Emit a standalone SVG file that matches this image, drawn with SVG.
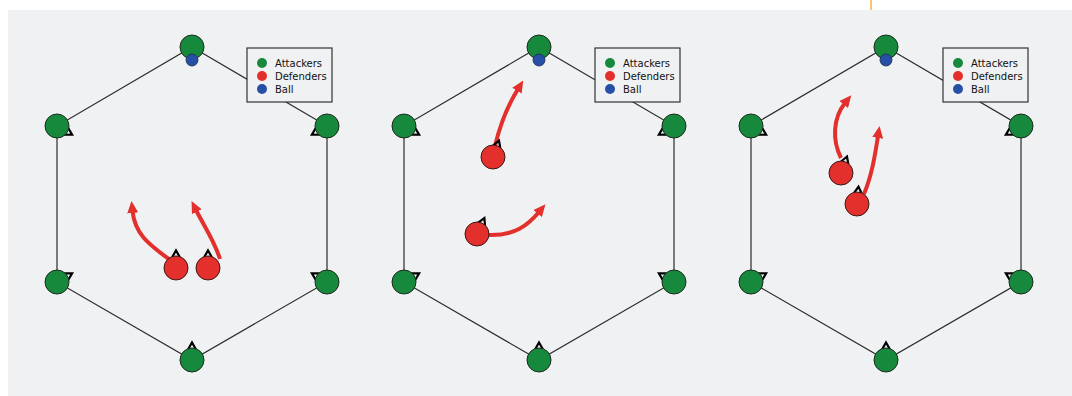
<svg xmlns="http://www.w3.org/2000/svg" width="1072" height="396" viewBox="0 0 1072 396">
<style>
.edge{stroke:#2b2b2b;stroke-width:1.2;fill:none}
.att{fill:#17893c;stroke:#1d2a1f;stroke-width:1}
.def{fill:#e3302c;stroke:#3a1a18;stroke-width:1}
.ball{fill:#2650a6;stroke:#1a2a50;stroke-width:0.8}
.mv{stroke:#e3302c;stroke-width:4;fill:none;marker-end:url(#ah)}
.caret{fill:none;stroke:#000;stroke-width:2.2;stroke-linejoin:miter}
.lg{fill:#f0f1f3;stroke:#333;stroke-width:1.2}
.lt{font-family:"DejaVu Sans",sans-serif;font-size:10px;fill:#111}
</style>
<defs>
<marker id="ah" markerUnits="userSpaceOnUse" viewBox="0 0 12 11" refX="2" refY="5.5" markerWidth="12" markerHeight="11" orient="auto">
<path d="M0,0 L12,5.5 L0,11 z" fill="#e3302c"/>
</marker>
<path id="cr" class="caret" d="M-4,3.5 L0,-3.5 L4,3.5"/>
<g id="legend">
<rect class="lg" x="0" y="0" width="85" height="54"/>
<circle cx="15" cy="15" r="5" fill="#17893c"/>
<circle cx="15" cy="28" r="5" fill="#e3302c"/>
<circle cx="15" cy="41" r="5" fill="#2650a6"/>
<text class="lt" x="28" y="19">Attackers</text>
<text class="lt" x="28" y="32">Defenders</text>
<text class="lt" x="28" y="45">Ball</text>
</g>
</defs>
<rect x="8" y="10" width="1064" height="386" fill="#f0f1f3"/>
<line x1="871" y1="0" x2="871" y2="10" stroke="#f2b43a" stroke-width="1.5"/>

<g id="connectors">
<polygon class="edge" points="192,47 327,126 327,282 192,360 57,282 57,126"/>
<polygon class="edge" points="539,47 674,126 674,282 539,360 404,282 404,126"/>
<polygon class="edge" points="886,47 1021,126 1021,282 886,360 751,282 751,126"/>
<path class="mv" d="M170,260 C150,245 135,235 132.5,211"/>
<path class="mv" d="M220,259 C214,240 204,226 196,210"/>
<path class="mv" d="M495,146 C500,125 508,105 518,89"/>
<path class="mv" d="M488,235 C515,236 528,225 539,212"/>
<path class="mv" d="M841,158 C832,140 833,118 845,103"/>
<path class="mv" d="M864,194 C872,175 875,155 878,136"/>
</g>

<g id="legend1"><use href="#legend" x="247" y="48"/></g>
<g id="legend2"><use href="#legend" x="595" y="48"/></g>
<g id="legend3"><use href="#legend" x="943" y="48"/></g>

<!-- Panel 1 -->
<g id="p1-top"><circle class="att" cx="192" cy="47" r="12"/></g>
<g id="p1-ball"><circle class="ball" cx="192" cy="60" r="6"/></g>
<g id="p1-ul"><use href="#cr" transform="translate(69.1,133) rotate(120)"/><circle class="att" cx="57" cy="126" r="12"/></g>
<g id="p1-ur"><use href="#cr" transform="translate(314.9,133) rotate(-120)"/><circle class="att" cx="327" cy="126" r="12"/></g>
<g id="p1-ll"><use href="#cr" transform="translate(69.1,275) rotate(60)"/><circle class="att" cx="57" cy="282" r="12"/></g>
<g id="p1-lr"><use href="#cr" transform="translate(314.9,275) rotate(-60)"/><circle class="att" cx="327" cy="282" r="12"/></g>
<g id="p1-bot"><use href="#cr" transform="translate(192,346)"/><circle class="att" cx="192" cy="360" r="12"/></g>
<g id="p1-d1"><use href="#cr" transform="translate(176,254)"/><circle class="def" cx="176" cy="268" r="12"/></g>
<g id="p1-d2"><use href="#cr" transform="translate(208,254)"/><circle class="def" cx="208" cy="268" r="12"/></g>

<!-- Panel 2 -->
<g id="p2-top"><circle class="att" cx="539" cy="47" r="12"/></g>
<g id="p2-ball"><circle class="ball" cx="539" cy="60" r="6"/></g>
<g id="p2-ul"><use href="#cr" transform="translate(416.1,133) rotate(120)"/><circle class="att" cx="404" cy="126" r="12"/></g>
<g id="p2-ur"><use href="#cr" transform="translate(661.9,133) rotate(-120)"/><circle class="att" cx="674" cy="126" r="12"/></g>
<g id="p2-ll"><use href="#cr" transform="translate(416.1,275) rotate(60)"/><circle class="att" cx="404" cy="282" r="12"/></g>
<g id="p2-lr"><use href="#cr" transform="translate(661.9,275) rotate(-60)"/><circle class="att" cx="674" cy="282" r="12"/></g>
<g id="p2-bot"><use href="#cr" transform="translate(539,346)"/><circle class="att" cx="539" cy="360" r="12"/></g>
<g id="p2-d1"><use href="#cr" transform="translate(497.8,143.8) rotate(20)"/><circle class="def" cx="493" cy="157" r="12"/></g>
<g id="p2-d2"><use href="#cr" transform="translate(482.9,221.3) rotate(25)"/><circle class="def" cx="477" cy="234" r="12"/></g>

<!-- Panel 3 -->
<g id="p3-top"><circle class="att" cx="886" cy="47" r="12"/></g>
<g id="p3-ball"><circle class="ball" cx="886" cy="60" r="6"/></g>
<g id="p3-ul"><use href="#cr" transform="translate(763.1,133) rotate(120)"/><circle class="att" cx="751" cy="126" r="12"/></g>
<g id="p3-ur"><use href="#cr" transform="translate(1008.9,133) rotate(-120)"/><circle class="att" cx="1021" cy="126" r="12"/></g>
<g id="p3-ll"><use href="#cr" transform="translate(763.1,275) rotate(60)"/><circle class="att" cx="751" cy="282" r="12"/></g>
<g id="p3-lr"><use href="#cr" transform="translate(1008.9,275) rotate(-60)"/><circle class="att" cx="1021" cy="282" r="12"/></g>
<g id="p3-bot"><use href="#cr" transform="translate(886,346)"/><circle class="att" cx="886" cy="360" r="12"/></g>
<g id="p3-d1"><use href="#cr" transform="translate(845.8,159.8) rotate(20)"/><circle class="def" cx="841" cy="173" r="12"/></g>
<g id="p3-d2"><use href="#cr" transform="translate(858.2,190.1) rotate(5)"/><circle class="def" cx="857" cy="204" r="12"/></g>
</svg>
